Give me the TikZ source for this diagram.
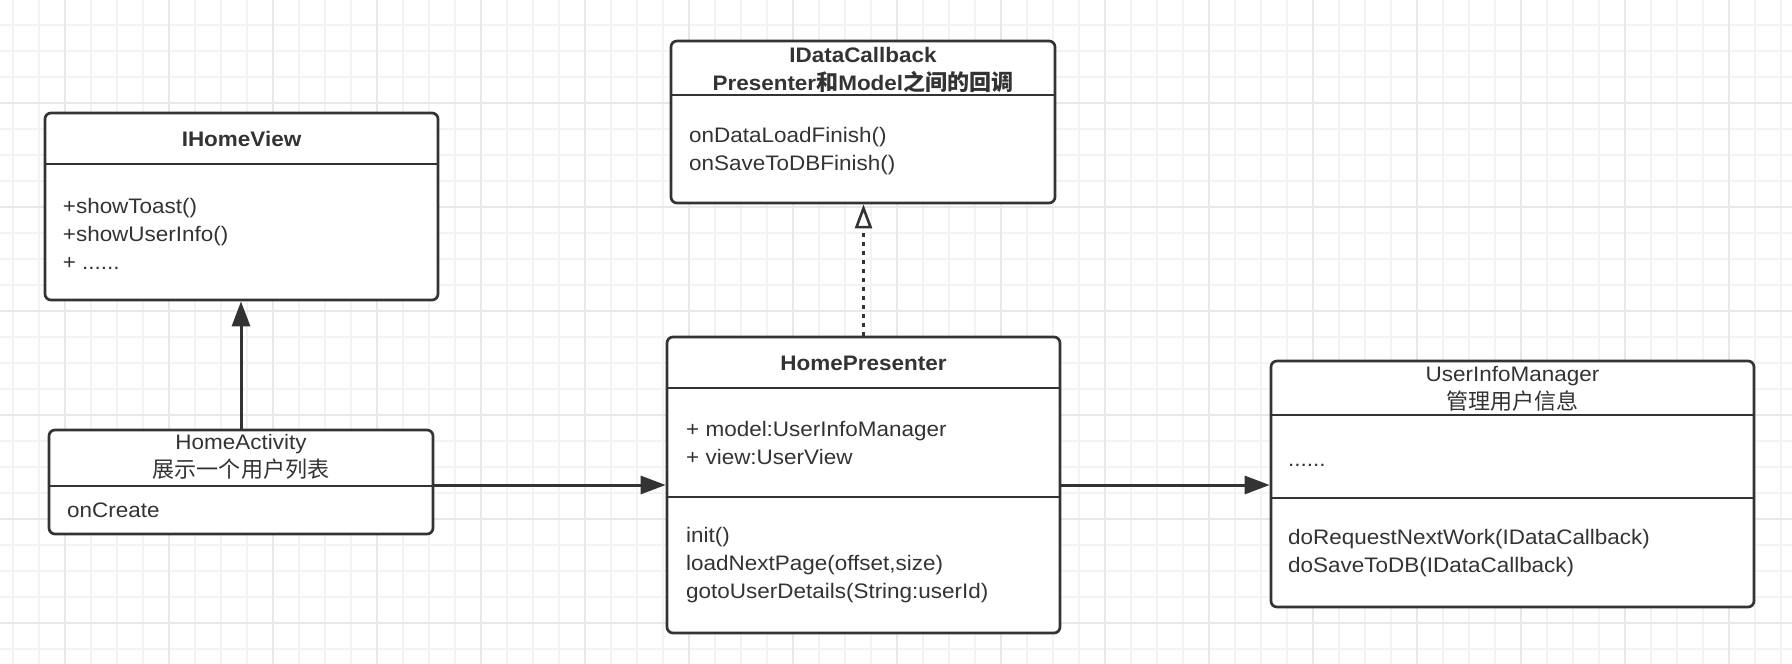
\documentclass[tikz,border=0pt]{standalone}
\usepackage{fontspec}
\setmainfont[FakeStretch=1.07]{Liberation Sans}
\newfontfamily\cjk[Scale=1.05]{Noto Sans CJK SC}
\usetikzlibrary{positioning,arrows.meta}
\definecolor{UMLink}{HTML}{333333}
\definecolor{GridMinor}{HTML}{F3F3F3}
\definecolor{GridMajor}{HTML}{E8E8E8}
\newcommand\umlsize{\fontsize{21}{28}\selectfont}
\tikzset{
  classbox/.style={draw=UMLink, fill=white, line width=2.7pt, rounded corners=6pt, inner sep=0pt},
  classline/.style={draw=UMLink, line width=2.7pt},
  classtitle/.style={font=\umlsize\bfseries, text=UMLink, align=center, inner sep=0pt},
  classname/.style={font=\umlsize, text=UMLink, align=center, inner sep=0pt},
  member/.style={font=\umlsize, text=UMLink, align=left, anchor=west, inner sep=0pt},
  assocarr/.style={-{Triangle[length=25pt,width=18pt]}, line width=3pt, draw=UMLink},
  realarr/.style={-{Triangle[open,length=24pt,width=17pt]}, line width=2.6pt, draw=UMLink, dash pattern=on 4pt off 5pt},
  gridminor/.style={draw=GridMinor, line width=2pt},
  gridmajor/.style={draw=GridMajor, line width=2pt}
}
\begin{document}
\begin{tikzpicture}[x=1pt, y=-1pt]
  \useasboundingbox (0,0) rectangle (1792,664);
  % background grid
  \fill[white] (0,0) rectangle (1792,664);
  \foreach \i in {0,...,68} \draw[gridminor] ({12.7+26*\i},0) -- ({12.7+26*\i},664);
  \foreach \i in {1,...,25} \draw[gridminor] (0,{-1+26*\i}) -- (1792,{-1+26*\i});
  \foreach \i in {0,...,16} \draw[gridmajor] ({64.7+104*\i},0) -- ({64.7+104*\i},664);
  \foreach \i in {1,...,6} \draw[gridmajor] (0,{-1+104*\i}) -- (1792,{-1+104*\i});

  % IHomeView
  \node[classbox, minimum width=393pt, minimum height=187pt] (hv) at (241.5,206.5) {};
  \node[classtitle] (hvT) at (241.5,139.3) {IHomeView};
  \draw[classline] (hv.west |- 0,164) -- (hv.east |- 0,164);
  \node[member] (hvM) at (62.7,233.6) {+showToast()\\+showUserInfo()\\+ ......};

  % IDataCallback
  \node[classbox, minimum width=384pt, minimum height=162pt] (dc) at (863,122) {};
  \node[classtitle] (dcT) at (863,69.5) {IDataCallback\\Presenter{\cjk 和}Model{\cjk 之间的回调}};
  \draw[classline] (dc.west |- 0,95) -- (dc.east |- 0,95);
  \node[member] (dcM) at (689,151.2) {onDataLoadFinish()\\onSaveToDBFinish()};

  % HomeActivity
  \node[classbox, minimum width=384pt, minimum height=104pt] (ha) at (241,482) {};
  \node[classname] (haT) at (241,457) {HomeActivity\\{\cjk 展示一个用户列表}};
  \draw[classline] (ha.west |- 0,486) -- (ha.east |- 0,486);
  \node[member] (haM) at (67,510) {onCreate};

  % HomePresenter
  \node[classbox, minimum width=393pt, minimum height=296pt] (hp) at (863.5,485) {};
  \node[classtitle] (hpT) at (863.5,363.3) {HomePresenter};
  \draw[classline] (hp.west |- 0,388) -- (hp.east |- 0,388);
  \node[member] (hpA) at (686,443) {+ model:UserInfoManager\\+ view:UserView};
  \draw[classline] (hp.west |- 0,497) -- (hp.east |- 0,497);
  \node[member] (hpM) at (686,564.8) {init()\\loadNextPage(offset,size)\\gotoUserDetails(String:userId)};

  % UserInfoManager
  \node[classbox, minimum width=483pt, minimum height=246pt] (um) at (1512.5,484) {};
  \node[classname] (umT) at (1512.5,388.9) {UserInfoManager\\{\cjk 管理用户信息}};
  \draw[classline] (um.west |- 0,415) -- (um.east |- 0,415);
  \node[member] (umA) at (1288,465) {......};
  \draw[classline] (um.west |- 0,498) -- (um.east |- 0,498);
  \node[member] (umM) at (1288,552.8) {doRequestNextWork(IDataCallback)\\doSaveToDB(IDataCallback)};

  % connectors
  \draw[assocarr] (ha.north) -- (ha.north |- hv.south);
  \draw[assocarr] (ha.east |- hp.west) -- (hp.west);
  \draw[assocarr] (hp.east) -- (um.west |- hp.east);
  \draw[realarr] (hp.north) -- (hp.north |- dc.south);
\end{tikzpicture}
\end{document}
